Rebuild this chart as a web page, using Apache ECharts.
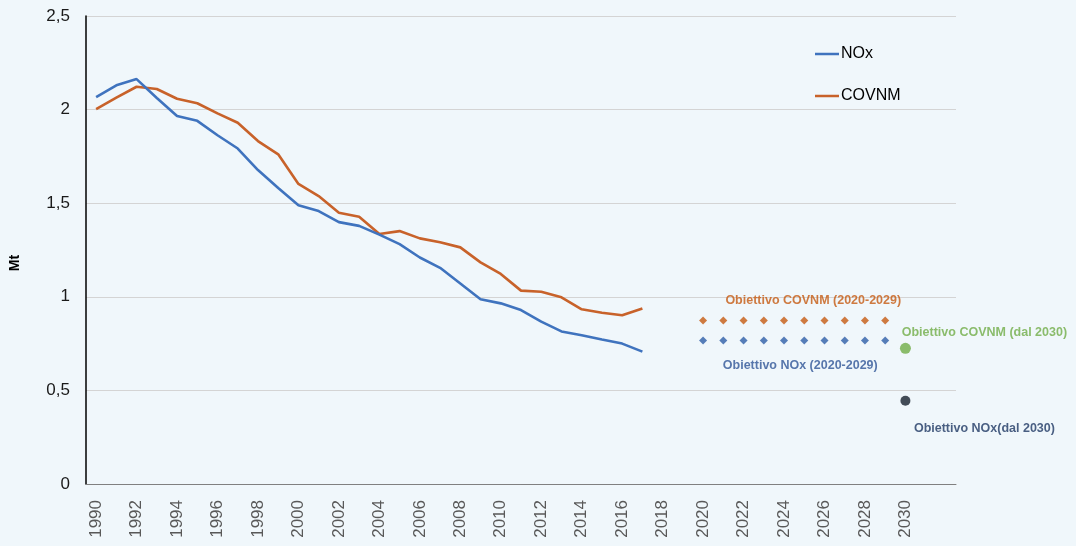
<!DOCTYPE html>
<html>
<head>
<meta charset="utf-8">
<script src="https://cdn.jsdelivr.net/npm/echarts@6/dist/echarts.min.js"></script>
<style>
  html, body { margin: 0; padding: 0; background: #f0f7fb; }
  #chart { width: 1076px; height: 546px; }
</style>
</head>
<body>
<div id="chart"></div>
<script>
// anni sull'asse x
var years = ['1990','1991','1992','1993','1994','1995','1996','1997','1998','1999',
  '2000','2001','2002','2003','2004','2005','2006','2007','2008','2009',
  '2010','2011','2012','2013','2014','2015','2016','2017','2018','2019',
  '2020','2021','2022','2023','2024','2025','2026','2027','2028','2029',
  '2030','2031','2032'];

// emissioni storiche (Mt), 1990-2017
var nox = [2.067, 2.13, 2.163, 2.062, 1.966, 1.94, 1.863, 1.792, 1.677, 1.581,
  1.489, 1.458, 1.399, 1.379, 1.332, 1.281, 1.210, 1.155, 1.071, 0.987,
  0.965, 0.929, 0.867, 0.815, 0.795, 0.772, 0.750, 0.707];
var covnm = [2.003, 2.064, 2.122, 2.110, 2.058, 2.034, 1.980, 1.930, 1.832, 1.761,
  1.603, 1.538, 1.449, 1.428, 1.335, 1.351, 1.312, 1.291, 1.264, 1.184,
  1.122, 1.033, 1.027, 0.997, 0.933, 0.915, 0.901, 0.938];

// obiettivi
var targetYears = ['2020','2021','2022','2023','2024','2025','2026','2027','2028','2029'];
var covnmTarget = [0.873, 0.873, 0.873, 0.873, 0.873, 0.873, 0.873, 0.873, 0.873, 0.873];
var noxTarget = [0.766, 0.766, 0.766, 0.766, 0.766, 0.766, 0.766, 0.766, 0.766, 0.766];
var covnmTarget2030 = 0.725;
var noxTarget2030 = 0.445;

var yTicks = [0, 0.5, 1, 1.5, 2, 2.5];

var chart = echarts.init(document.getElementById('chart'));

function pairs(cats, vals) {
  return vals.map(function (v, i) { return [cats[i], v]; });
}

var lblFont = { fontFamily: 'Liberation Sans', fontWeight: 'bold', fontSize: 12.5 };

var covnmTargetData = pairs(targetYears, covnmTarget);
covnmTargetData[5] = {
  value: covnmTargetData[5],
  label: Object.assign({ show: true, position: 'inside', offset: [9, -20],
    formatter: 'Obiettivo COVNM (2020-2029)', color: '#c55a11' }, lblFont)
};
var noxTargetData = pairs(targetYears, noxTarget);
noxTargetData[5] = {
  value: noxTargetData[5],
  label: Object.assign({ show: true, position: 'inside', offset: [-4, 25],
    formatter: 'Obiettivo NOx (2020-2029)', color: '#2f5597' }, lblFont)
};

var option = {
  backgroundColor: '#f0f7fb',
  animation: false,
  grid: { left: 86, right: 120, top: 16, bottom: 62 },
  legend: {
    data: ['NOx', 'COVNM'],
    orient: 'vertical',
    left: 810,
    top: 41,
    itemWidth: 24,
    itemHeight: 14,
    itemGap: 26,
    icon: 'path://M0,6 L24,6 L24,8.5 L0,8.5 Z',
    textStyle: { fontFamily: 'Liberation Sans', fontSize: 16, color: '#000', padding: [0, 0, 0, -3] }
  },
  xAxis: {
    type: 'category',
    data: years,
    boundaryGap: true,
    axisLine: { lineStyle: { color: '#808080', width: 1 } },
    axisTick: { interval: 0, length: 5, lineStyle: { color: '#a0a0a0' } },
    axisLabel: {
      interval: 1,
      rotate: 90,
      margin: 16,
      showMaxLabel: false,
      fontFamily: 'Liberation Sans',
      fontSize: 17,
      color: '#595959'
    },
    splitLine: { show: false }
  },
  yAxis: {
    type: 'value',
    min: yTicks[0],
    max: yTicks[yTicks.length - 1],
    interval: 0.5,
    name: 'Mt',
    nameLocation: 'middle',
    nameGap: 64,
    nameTextStyle: { fontFamily: 'Liberation Sans', fontWeight: 'bold', fontSize: 14, color: '#000', padding: [0, 26, 0, 0] },
    axisLine: { show: true, lineStyle: { color: '#000', width: 1.5 } },
    axisTick: { show: false },
    axisLabel: {
      margin: 16,
      fontFamily: 'Liberation Sans',
      fontSize: 17,
      color: '#1a1a1a',
      formatter: function (v) { return String(v).replace('.', ','); }
    },
    splitLine: { lineStyle: { color: '#d4d4d4', width: 1 } }
  },
  series: [
    {
      name: 'NOx',
      type: 'line',
      data: nox,
      symbol: 'none',
      lineStyle: { color: '#3f73be', width: 2.6 },
      itemStyle: { color: '#3f73be' },
      z: 3
    },
    {
      name: 'COVNM',
      type: 'line',
      data: covnm,
      symbol: 'none',
      lineStyle: { color: '#c8622a', width: 2.6 },
      itemStyle: { color: '#c8622a' },
      z: 2
    },
    {
      name: 'Obiettivo COVNM (2020-2029)',
      type: 'scatter',
      data: covnmTargetData,
      symbol: 'diamond',
      symbolSize: 8,
      itemStyle: { color: '#c55a11' }
    },
    {
      name: 'Obiettivo NOx (2020-2029)',
      type: 'scatter',
      data: noxTargetData,
      symbol: 'diamond',
      symbolSize: 8,
      itemStyle: { color: '#2e5ea8' }
    },
    {
      name: 'Obiettivo COVNM (dal 2030)',
      type: 'scatter',
      data: [{
        value: ['2030', covnmTarget2030],
        label: Object.assign({ show: true, position: 'inside', offset: [79, -16],
          formatter: 'Obiettivo COVNM (dal 2030)', color: '#70ad47' }, lblFont)
      }],
      symbol: 'circle',
      symbolSize: 11,
      itemStyle: { color: '#70ad47' }
    },
    {
      name: 'Obiettivo NOx (dal 2030)',
      type: 'scatter',
      data: [{
        value: ['2030', noxTarget2030],
        label: Object.assign({ show: true, position: 'inside', offset: [79, 28],
          formatter: 'Obiettivo NOx(dal 2030)', color: '#1f3864' }, lblFont)
      }],
      symbol: 'circle',
      symbolSize: 10,
      itemStyle: { color: '#16202e' }
    }
  ]
};

chart.setOption(option);
</script>
</body>
</html>
